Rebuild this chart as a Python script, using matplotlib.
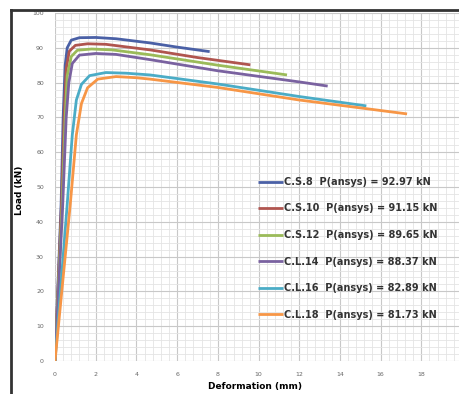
import numpy as np
import matplotlib.pyplot as plt
from matplotlib.lines import Line2D
from matplotlib.ticker import MultipleLocator, FixedLocator

# deformation (mm) / load (kN)
cs8_x = [0, 0.3, 0.4, 0.5, 0.6, 0.8, 1.2, 2.0, 3.0, 4.67, 6.0, 7.6]
cs8_y = [0, 45, 70, 85, 90, 92.2, 92.9, 92.97, 92.6, 91.4, 90.2, 88.9]
cs10_x = [0, 0.32, 0.45, 0.55, 0.7, 1.0, 1.6, 2.5, 4.67, 7.0, 9.6]
cs10_y = [0, 45, 70, 84, 89, 90.7, 91.15, 91.0, 89.4, 87.2, 85.1]
cs12_x = [0, 0.35, 0.5, 0.6, 0.8, 1.1, 1.8, 2.8, 4.67, 8.0, 11.4]
cs12_y = [0, 45, 70, 82, 87.5, 89.3, 89.65, 89.4, 88.0, 85.0, 82.2]
cl14_x = [0, 0.38, 0.55, 0.68, 0.85, 1.2, 2.0, 3.0, 4.67, 8.0, 12.0, 13.4]
cl14_y = [0, 45, 70, 80, 85.5, 87.9, 88.37, 88.1, 86.6, 83.4, 80.2, 79.0]
cl16_x = [0, 0.6, 0.85, 1.05, 1.3, 1.7, 2.5, 3.5, 4.67, 8.0, 12.0, 15.3]
cl16_y = [0, 45, 65, 75, 79.5, 82.0, 82.89, 82.7, 82.2, 79.6, 76.0, 73.3]
cl18_x = [0, 0.75, 1.05, 1.3, 1.6, 2.1, 3.0, 4.0, 4.67, 8.0, 12.0, 17.3]
cl18_y = [0, 45, 65, 74, 78.5, 81.0, 81.73, 81.4, 81.0, 78.6, 75.0, 71.0]

labels = ['C.S.8  P(ansys) = 92.97 kN', 'C.S.10  P(ansys) = 91.15 kN',
          'C.S.12  P(ansys) = 89.65 kN', 'C.L.14  P(ansys) = 88.37 kN',
          'C.L.16  P(ansys) = 82.89 kN', 'C.L.18  P(ansys) = 81.73 kN']
colors = ['#4a60a6', '#b0554f', '#9bbb59', '#7a62a0', '#4bacc6', '#f79646']
x_ticks = [0, 2, 4, 6, 8, 10, 12, 14, 16, 18]

fig = plt.figure(figsize=(4.59, 3.94), dpi=100)
ax = fig.add_axes([55 / 459, 33 / 394, 407 / 459, 348 / 394])

series = [(cs8_x, cs8_y), (cs10_x, cs10_y), (cs12_x, cs12_y),
          (cl14_x, cl14_y), (cl16_x, cl16_y), (cl18_x, cl18_y)]
for (x, y), c, lab in zip(series, colors, labels):
    ax.plot(x, y, color=c, lw=2, label=lab, solid_capstyle='butt')

ax.set_xlim(0, 20)
ax.set_ylim(0, 100)
ax.xaxis.set_major_locator(FixedLocator(x_ticks))
ax.xaxis.set_minor_locator(MultipleLocator(0.4))
ax.yaxis.set_major_locator(MultipleLocator(10))
ax.yaxis.set_minor_locator(MultipleLocator(2))
ax.grid(which='major', color='#c8c8c8', lw=0.8)
ax.grid(which='minor', color='#e4e4e4', lw=0.6)
ax.set_axisbelow(True)
ax.tick_params(which='both', length=0, labelsize=4.5, labelcolor='#666666', pad=8)
for s in ax.spines.values():
    s.set_visible(False)

ax.set_xlabel('Deformation (mm)', fontsize=6.5, fontweight='bold')
ax.set_ylabel('Load (kN)', fontsize=6.5, fontweight='bold')
ax.xaxis.set_label_coords(200 / 407, -0.06)
ax.yaxis.set_label_coords(-0.075, 0.49)

leg = ax.legend(loc='upper left', bbox_to_anchor=(199 / 407, 0.54), frameon=False,
                fontsize=7.0, handlelength=2.6, handletextpad=0.1, labelspacing=1.7,
                borderaxespad=0)
for t in leg.get_texts():
    t.set_fontweight('bold')
    t.set_color('#333333')

# dark frame on the left and top of the picture
fig.add_artist(Line2D([11 / 459, 11 / 459], [0, 384 / 394], color='#333333', lw=2))
fig.add_artist(Line2D([11 / 459, 1], [384 / 394, 384 / 394], color='#333333', lw=2))

fig.savefig('out.png', dpi=100)
